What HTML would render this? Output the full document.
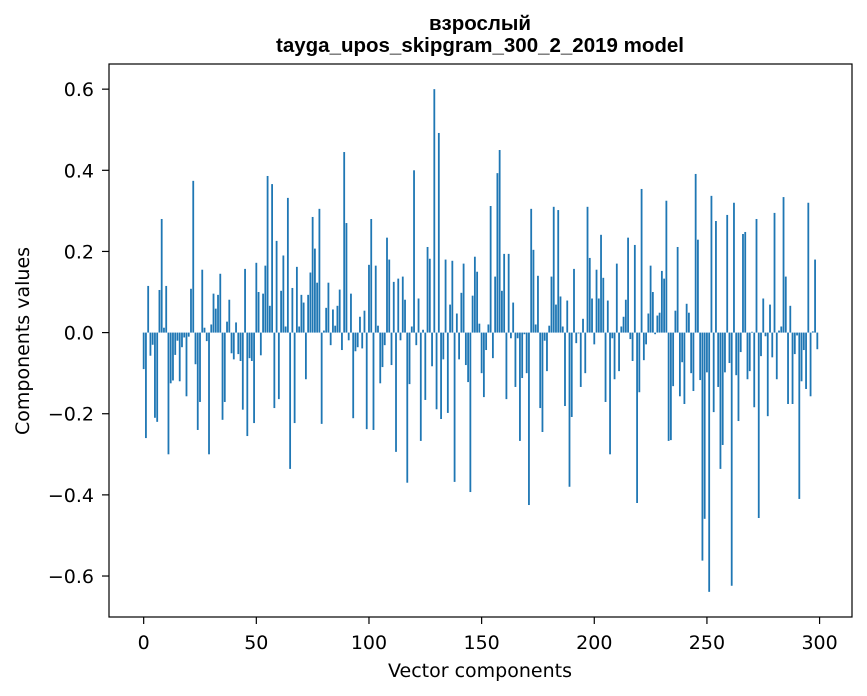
<!DOCTYPE html>
<html><head><meta charset="utf-8">
<style>
html,body{margin:0;padding:0;background:#fff;}
svg{display:block;font-family:"DejaVu Sans","Liberation Sans",sans-serif;}
</style></head>
<body>
<svg id="chart" width="867" height="696" viewBox="0 0 867 696">
<rect width="867" height="696" fill="#fff"/>
<text x="480" y="30" text-anchor="middle" font-size="20.5" font-weight="bold" font-family="Liberation Sans, sans-serif">взрослый</text>
<text x="480" y="52" text-anchor="middle" font-size="20.5" font-weight="bold" font-family="Liberation Sans, sans-serif">tayga_upos_skipgram_300_2_2019 model</text>
<g id="bars"></g>
<g id="xticks"></g>
<g id="yticks"></g>
<rect x="109" y="64" width="743" height="553" fill="none" stroke="#000" stroke-width="1.2"/>
<text x="480" y="677" text-anchor="middle" font-size="19" fill="#000">Vector components</text>
<text transform="translate(29,341) rotate(-90)" text-anchor="middle" font-size="19" fill="#000">Components values</text>
</svg>
<script>
const values = [
-0.09,-0.26,0.115,-0.057,-0.03,-0.21,-0.22,0.105,0.28,0.012,
0.115,-0.3,-0.125,-0.118,-0.055,-0.02,-0.12,-0.036,-0.012,-0.157,
-0.01,0.108,0.374,-0.078,-0.24,-0.171,0.155,0.012,-0.021,-0.3,
0.02,0.096,0.059,0.093,0.145,-0.215,-0.171,0.027,0.081,-0.051,
-0.066,0.025,-0.053,-0.07,-0.19,0.157,-0.255,-0.063,-0.07,-0.223,
0.172,0.1,-0.056,0.096,0.165,0.386,0.066,0.366,-0.186,0.226,
-0.164,0.103,0.19,0.015,0.332,-0.336,0.11,-0.223,0.162,0.015,
0.093,0.074,-0.115,0.093,0.148,0.285,0.207,0.123,0.305,-0.225,
0.005,0.061,0.123,-0.031,0.057,0.017,0.066,0.106,-0.043,0.445,
0.27,-0.019,0.096,-0.211,-0.046,-0.036,0.039,-0.039,0.054,-0.238,
0.167,0.28,-0.24,0.165,0.017,-0.125,-0.085,-0.031,0.234,0.18,
-0.08,0.125,-0.294,0.133,-0.019,0.138,0.081,-0.37,-0.127,0.015,
0.4,-0.031,0.084,-0.267,0.007,-0.166,0.211,0.182,-0.083,0.6,
-0.189,0.492,-0.213,-0.066,0.18,-0.198,0.069,0.177,-0.368,0.047,
-0.066,0.098,0.17,-0.08,-0.122,-0.393,0.091,0.187,0.15,0.022,
-0.1,-0.159,-0.043,0.02,0.312,-0.063,0.138,0.393,0.45,0.103,
0.194,-0.164,0.194,-0.014,0.074,-0.134,-0.014,-0.267,-0.112,-0.004,
-0.1,-0.425,0.305,0.204,0.02,0.14,-0.186,-0.245,-0.02,-0.095,
0.017,0.138,0.31,0.069,0.302,0.089,0.015,-0.181,0.079,-0.38,
-0.208,0.157,-0.026,-0.002,-0.134,0.034,-0.1,0.31,0.184,0.084,
-0.029,0.155,0.084,0.241,0.135,-0.171,0.079,-0.3,-0.014,-0.115,
0.17,-0.095,0.015,0.039,0.081,0.234,-0.016,-0.07,0.216,-0.42,
-0.147,0.354,-0.068,-0.029,0.047,0.165,0.1,-0.004,0.042,0.049,
0.152,0.133,0.325,-0.267,-0.265,-0.132,0.054,0.211,-0.157,-0.073,
-0.176,0.071,0.049,-0.1,-0.144,0.391,0.229,-0.117,-0.562,-0.459,
-0.098,-0.639,0.337,-0.196,0.275,-0.134,-0.336,-0.277,-0.098,0.29,
-0.075,-0.624,0.32,-0.105,-0.218,-0.048,0.243,0.248,-0.115,-0.095,
0.002,-0.184,0.28,-0.457,-0.058,0.084,-0.009,-0.206,0.069,-0.061,
0.295,-0.115,0.005,0.015,0.334,0.138,-0.176,0.066,-0.176,-0.053,
-0.007,-0.41,-0.12,-0.043,-0.139,0.32,-0.157,0.003,0.18,-0.041
];
const xTickLabels = [0,50,100,150,200,250,300];
const yTickLabels = [-0.6,-0.4,-0.2,0.0,0.2,0.4,0.6];

const PL=109, PR=852, PT=64, PB=617;
const xMin=-15.39, xMax=314.39, yMin=-0.701, yMax=0.662;
function sx(v){return PL+(v-xMin)/(xMax-xMin)*(PR-PL);}
function sy(v){return PT+(yMax-v)/(yMax-yMin)*(PB-PT);}
const NS="http://www.w3.org/2000/svg";
const bars=document.getElementById('bars');
values.forEach((v,i)=>{
  const r=document.createElementNS(NS,'rect');
  const x0=sx(i-0.4), x1=sx(i+0.4);
  const y0=sy(Math.max(v,0)), y1=sy(Math.min(v,0));
  r.setAttribute('x',x0);r.setAttribute('width',x1-x0);
  r.setAttribute('y',y0);r.setAttribute('height',Math.max(y1-y0,0.01));
  r.setAttribute('fill','#1f77b4');
  
  
  bars.appendChild(r);
});
const xt=document.getElementById('xticks');
xTickLabels.forEach(t=>{
  const x=sx(t);
  const l=document.createElementNS(NS,'line');
  l.setAttribute('x1',x);l.setAttribute('x2',x);l.setAttribute('y1',PB);l.setAttribute('y2',PB+7);
  l.setAttribute('stroke','#000');l.setAttribute('stroke-width','1.2');
  
  
  xt.appendChild(l);
  const tx=document.createElementNS(NS,'text');
  tx.setAttribute('x',x);tx.setAttribute('y',649);tx.setAttribute('text-anchor','middle');tx.setAttribute('font-size','19');
  tx.setAttribute('fill','#000');
  tx.textContent=t;
  
  
  xt.appendChild(tx);
});
const yt=document.getElementById('yticks');
yTickLabels.forEach(t=>{
  const y=sy(t);
  const l=document.createElementNS(NS,'line');
  l.setAttribute('x1',PL-7);l.setAttribute('x2',PL);l.setAttribute('y1',y);l.setAttribute('y2',y);
  l.setAttribute('stroke','#000');l.setAttribute('stroke-width','1.2');
  
  
  yt.appendChild(l);
  const tx=document.createElementNS(NS,'text');
  tx.setAttribute('x',PL-15);tx.setAttribute('y',y+7);tx.setAttribute('text-anchor','end');tx.setAttribute('font-size','19');
  tx.setAttribute('fill','#000');
  tx.textContent=(t<0?'\u2212':'')+Math.abs(t).toFixed(1);
  
  
  yt.appendChild(tx);
});
</script>
</body></html>
